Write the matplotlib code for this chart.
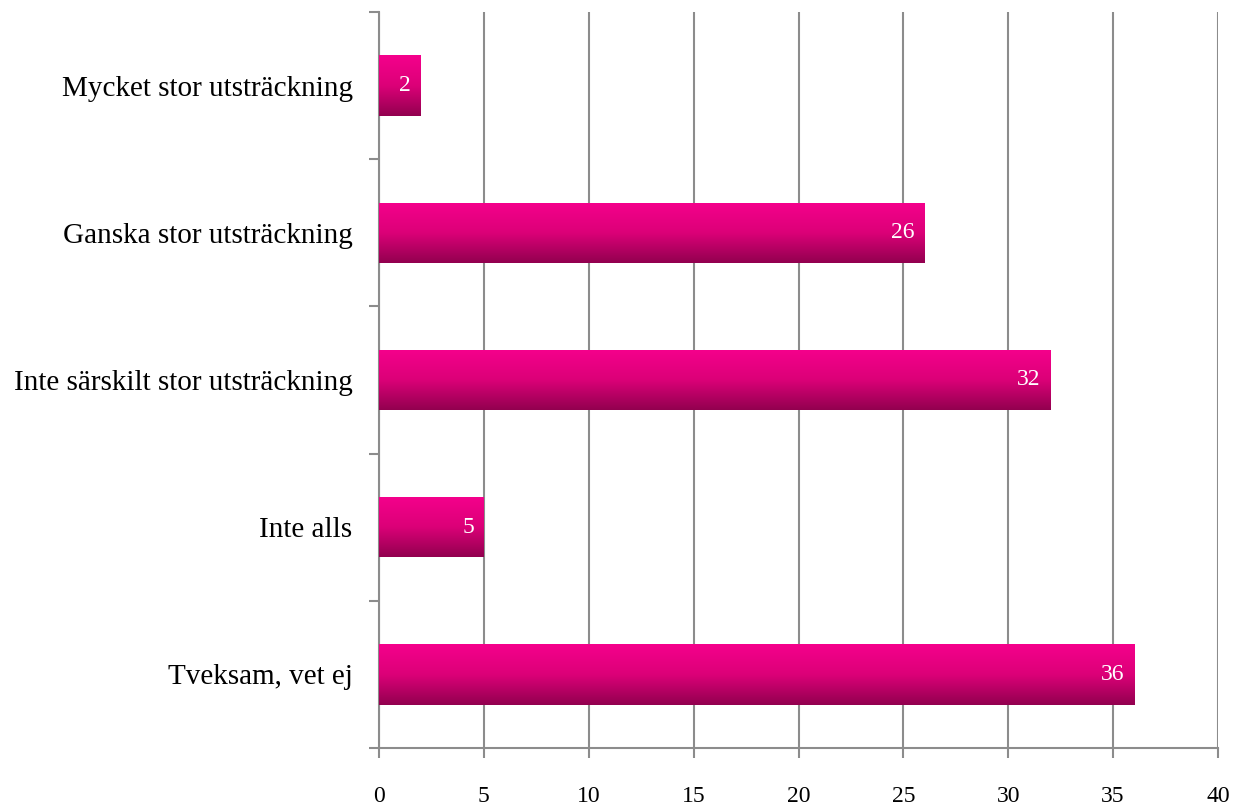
import matplotlib
matplotlib.use("Agg")
import matplotlib.pyplot as plt
import numpy as np
from matplotlib.colors import LinearSegmentedColormap

categories = ["Mycket stor utsträckning", "Ganska stor utsträckning",
              "Inte särskilt stor utsträckning", "Inte alls", "Tveksam, vet ej"]
values = [2, 26, 32, 5, 36]
xticks = [0, 5, 10, 15, 20, 25, 30, 35, 40]

plt.rcParams['font.family'] = ['Liberation Serif', 'DejaVu Serif']

fig = plt.figure(figsize=(12.38, 8.08), dpi=100)
ax = fig.add_axes([379/1238, 60/808, (1218-379)/1238, (796-60)/808])

n = len(categories)
ypos = np.arange(n)[::-1]
bar_h = 0.41
bars = ax.barh(ypos, values, height=bar_h, color='none', edgecolor='none', zorder=3)

cmap = LinearSegmentedColormap.from_list("pinkgrad", ["#F5008C", "#DC0078", "#92004F"])
grad = np.linspace(0, 1, 256).reshape(-1, 1)
for b in bars:
    x0, y0 = b.get_x(), b.get_y()
    w, h = b.get_width(), b.get_height()
    im = ax.imshow(grad, cmap=cmap, aspect='auto',
                   extent=[x0, x0 + w, y0, y0 + h], origin='upper', zorder=3)
    im.set_clip_path(b)

for y, v in zip(ypos, values):
    ax.annotate(str(v), xy=(v, y), xytext=(-7, 0), textcoords='offset points',
                ha='right', va='center', color='white', fontsize=17, zorder=4)

ax.set_xlim(0, 40)
ax.set_ylim(-0.5, n - 0.5)
ax.set_xticks(xticks)
ax.set_xticklabels([str(t) for t in xticks], fontsize=17)
ax.set_yticks(ypos)
ax.set_yticklabels(categories, fontsize=21)
ax.set_yticks(np.arange(-0.5, n, 1.0), minor=True)

ax.xaxis.grid(True, color='#8C8C8C', linewidth=1.5, zorder=0)
ax.set_axisbelow(True)
for s in ['top', 'right']:
    ax.spines[s].set_visible(False)
for s in ['left', 'bottom']:
    ax.spines[s].set_color('#8C8C8C')
    ax.spines[s].set_linewidth(1.5)

ax.tick_params(axis='y', which='major', length=0, pad=19)
ax.tick_params(axis='y', which='minor', length=7, width=1.5, color='#8C8C8C')
ax.tick_params(axis='x', which='major', length=7, width=1.5, color='#8C8C8C', pad=20)

fig.savefig("out.png", dpi=100, facecolor='white')
